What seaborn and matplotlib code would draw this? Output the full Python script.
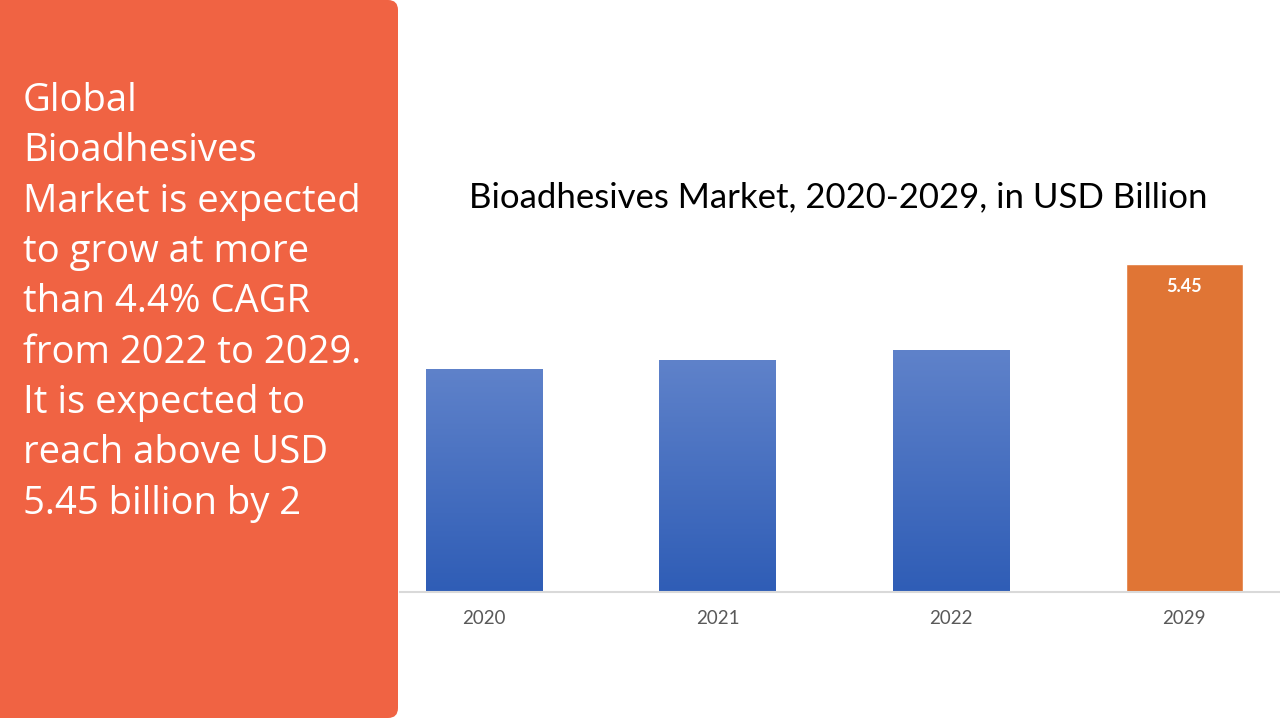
import matplotlib
matplotlib.use("Agg")
import matplotlib.pyplot as plt
import matplotlib.patches as mpatches
from matplotlib.colors import LinearSegmentedColormap
import numpy as np
import pandas as pd
import seaborn as sns

years = ["2020", "2021", "2022", "2029"]
values = [3.71, 3.86, 4.02, 5.45]
labelled = {"2029": "5.45"}
title = "Bioadhesives Market, 2020-2029, in USD Billion"
panel_text = ("Global\nBioadhesives\nMarket is expected\nto grow at more\nthan 4.4% CAGR\n"
              "from 2022 to 2029.\nIt is expected to\nreach above USD\n5.45 billion by 2")

sns.set_theme(style="white")
plt.rcParams["font.family"] = ["Lato", "DejaVu Sans"]

W, H = 1280, 720
fig = plt.figure(figsize=(12.8, 7.2), dpi=100)
fig.patch.set_facecolor("white")

# Left panel
pax = fig.add_axes([0, 0, 1, 1])
pax.set_xlim(0, W); pax.set_ylim(H, 0); pax.axis("off")
panel = mpatches.FancyBboxPatch((-30, 0), 428, 718,
                                boxstyle="round,pad=0,rounding_size=10",
                                facecolor="#F06343", edgecolor="none")
pax.add_patch(panel)
pax.text(23, 82, panel_text, color="white", fontsize=27.5, family=["Open Sans", "DejaVu Sans"],
         va="top", ha="left", linespacing=1.425)

# Chart axes
ax_left, ax_right = 400, 1280
ax_bottom, ax_top = 592, 240
ax = fig.add_axes([ax_left / W, 1 - ax_bottom / H, (ax_right - ax_left) / W, (ax_bottom - ax_top) / H])
ax.set_facecolor("none")
df = pd.DataFrame({"year": years, "value": values})
colors = ["#4A72C4", "#4A72C4", "#4A72C4", "#E07535"]
sns.barplot(data=df, x="year", y="value", hue="year", palette=colors, legend=False,
            width=0.5, ax=ax, saturation=1)
px_per_unit = (592 - 264) / 5.45
ax.set_ylim(0, (ax_bottom - ax_top) / px_per_unit)
ax.set_xlim(-0.36, 3.41)

# gradient for blue bars
grad = np.linspace(0, 1, 256).reshape(-1, 1)
cmap = LinearSegmentedColormap.from_list("bg", ["#2F5DB6", "#5F82CA"])
for patch, yr in zip(ax.patches, years):
    if yr == "2029":
        continue
    x0, y0 = patch.get_x(), patch.get_y()
    w, h = patch.get_width(), patch.get_height()
    im = ax.imshow(grad, extent=[x0, x0 + w, y0, y0 + h], origin="lower", aspect="auto",
                   cmap=cmap, zorder=patch.get_zorder() + 0.1)
    im.set_clip_path(patch)

for patch, yr in zip(ax.patches, years):
    if yr in labelled:
        ax.text(patch.get_x() + patch.get_width() / 2, patch.get_height() - 0.38, labelled[yr],
                ha="center", va="center", color="white", fontsize=13, fontweight="bold",
                zorder=5)

sns.despine(ax=ax, left=True, top=True, right=True)
ax.spines["bottom"].set_color("#D9D9D9")
ax.spines["bottom"].set_linewidth(1.5)
ax.set_yticks([])
ax.set_xlabel(""); ax.set_ylabel("")
ax.tick_params(axis="x", length=0, labelsize=13.5, labelcolor="#595959", pad=13)

fig.text(838 / W, 1 - 197 / H, title, ha="center", va="center", fontsize=25,
         color="black", family=["Lato", "DejaVu Sans"])

fig.savefig("out.png", dpi=100)
